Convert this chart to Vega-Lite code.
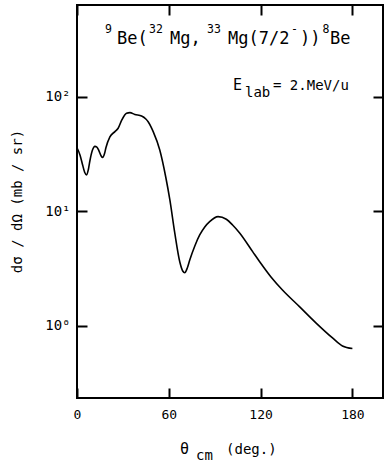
{
  "$schema": "https://vega.github.io/schema/vega-lite/v6.json",
  "width": 306,
  "height": 393,
  "autosize": "none",
  "padding": {"left": 77, "top": 5, "right": 1, "bottom": 65},
  "background": "white",
  "config": {
    "view": {"stroke": "black", "strokeWidth": 2},
    "axis": {
      "domain": false, "grid": false,
      "tickColor": "black", "tickWidth": 2, "tickSize": -10,
      "labelColor": "black", "labelFont": "DejaVu Sans Mono", "labelFontSize": 13,
      "titleFont": "DejaVu Sans Mono", "titleColor": "black", "titleFontWeight": "normal"
    },
    "text": {"font": "DejaVu Sans Mono", "color": "black", "align": "left", "baseline": "alphabetic"}
  },
  "datasets": {
    "curve": [
      {"theta": 0, "xs": 36}, {"theta": 2, "xs": 31}, {"theta": 3.5, "xs": 26}, {"theta": 5, "xs": 22},
      {"theta": 6.3, "xs": 20.8}, {"theta": 7.5, "xs": 23.5}, {"theta": 8.5, "xs": 28}, {"theta": 10, "xs": 34},
      {"theta": 11.7, "xs": 37}, {"theta": 13, "xs": 36.5}, {"theta": 14.3, "xs": 34}, {"theta": 15.8, "xs": 30.5},
      {"theta": 16.8, "xs": 29.6}, {"theta": 18, "xs": 32}, {"theta": 18.9, "xs": 36}, {"theta": 21.5, "xs": 44.8},
      {"theta": 24.8, "xs": 49.8}, {"theta": 26.9, "xs": 53.3}, {"theta": 29.3, "xs": 63}, {"theta": 32.4, "xs": 72},
      {"theta": 34.6, "xs": 73}, {"theta": 37.8, "xs": 70.3}, {"theta": 42.2, "xs": 68.2}, {"theta": 45, "xs": 64.2},
      {"theta": 46.5, "xs": 60.8}, {"theta": 49.8, "xs": 49.8}, {"theta": 54.1, "xs": 34.4}, {"theta": 58, "xs": 20},
      {"theta": 60.7, "xs": 12.6}, {"theta": 63.9, "xs": 6.49}, {"theta": 67.2, "xs": 3.62}, {"theta": 69.1, "xs": 3.02},
      {"theta": 70.4, "xs": 2.92}, {"theta": 72.1, "xs": 3.21}, {"theta": 73.7, "xs": 3.77}, {"theta": 77, "xs": 5.0},
      {"theta": 80.2, "xs": 6.23}, {"theta": 83.5, "xs": 7.32}, {"theta": 86.7, "xs": 8.15}, {"theta": 92.2, "xs": 9.01},
      {"theta": 97.6, "xs": 8.55}, {"theta": 101.7, "xs": 7.62}, {"theta": 106.3, "xs": 6.49}, {"theta": 114.8, "xs": 4.46},
      {"theta": 119.4, "xs": 3.64}, {"theta": 126.8, "xs": 2.68}, {"theta": 134.3, "xs": 2.06}, {"theta": 145.4, "xs": 1.475},
      {"theta": 156.3, "xs": 1.06}, {"theta": 167, "xs": 0.786}, {"theta": 173.5, "xs": 0.669}, {"theta": 180, "xs": 0.635}
    ]
  },
  "layer": [
    {
      "data": {"name": "curve"},
      "mark": {"type": "line", "color": "black", "strokeWidth": 1.6, "interpolate": "monotone"},
      "encoding": {
        "x": {"field": "theta", "type": "quantitative",
              "scale": {"domain": [0, 200], "nice": false, "zero": false},
              "axis": {"values": [0, 60, 120, 180], "title": null, "labelPadding": 20, "labelFlush": false, "labelFontSize": 13}},
        "y": {"field": "xs", "type": "quantitative",
              "scale": {"type": "log", "domain": [0.235, 635], "nice": false},
              "axis": {"values": [1, 10, 100],
                       "labelExpr": "datum.value == 1 ? '10⁰' : datum.value == 10 ? '10¹' : '10²'",
                       "labelPadding": 17, "labelFontSize": 14,
                       "title": "dσ / dΩ (mb / sr)", "titleFontSize": 14,
                       "titleX": -60, "titleY": 196, "titleAngle": 270,
                       "titleAlign": "center", "titleBaseline": "middle"}}
      }
    },
    {
      "data": {"name": "curve"},
      "mark": {"type": "line", "opacity": 0},
      "encoding": {
        "x": {"field": "theta", "type": "quantitative",
              "scale": {"domain": [0, 200], "nice": false, "zero": false},
              "axis": {"orient": "top", "values": [0, 60, 120, 180], "labels": false, "title": null}},
        "y": {"field": "xs", "type": "quantitative",
              "scale": {"type": "log", "domain": [0.235, 635], "nice": false},
              "axis": {"orient": "right", "values": [1, 10, 100], "labels": false, "title": null}}
      }
    },
    {
      "data": {"values": [
        {"x": 26.1, "y": 290.4, "text": "Be("},
        {"x": 60.8, "y": 290.4, "text": "Mg,"},
        {"x": 98.7, "y": 290.4, "text": "Mg(7/2"},
        {"x": 145.8, "y": 290.4, "text": "))"},
        {"x": 165.4, "y": 290.4, "text": "Be"}
      ]},
      "mark": {"type": "text", "fontSize": 17},
      "encoding": {
        "x": {"field": "x", "type": "quantitative", "scale": {"domain": [0, 200], "nice": false, "zero": false}, "axis": null},
        "y": {"field": "y", "type": "quantitative", "scale": {"type": "log", "domain": [0.235, 635], "nice": false}, "axis": null},
        "text": {"field": "text"}
      }
    },
    {
      "data": {"values": [
        {"x": 18.3, "y": 362.2, "text": "9"},
        {"x": 47.1, "y": 362.2, "text": "32"},
        {"x": 85.0, "y": 362.2, "text": "33"},
        {"x": 139.9, "y": 362.2, "text": "-"},
        {"x": 160.5, "y": 362.2, "text": "8"}
      ]},
      "mark": {"type": "text", "fontSize": 11.5},
      "encoding": {
        "x": {"field": "x", "type": "quantitative", "scale": {"domain": [0, 200], "nice": false, "zero": false}, "axis": null},
        "y": {"field": "y", "type": "quantitative", "scale": {"type": "log", "domain": [0.235, 635], "nice": false}, "axis": null},
        "text": {"field": "text"}
      }
    },
    {
      "data": {"values": [{"x": 102, "y": 115.1, "text": "E"}, {"x": 67.3, "y": 0.0762, "text": "θ"}]},
      "mark": {"type": "text", "fontSize": 15},
      "encoding": {
        "x": {"field": "x", "type": "quantitative", "scale": {"domain": [0, 200], "nice": false, "zero": false}, "axis": null},
        "y": {"field": "y", "type": "quantitative", "scale": {"type": "log", "domain": [0.235, 635], "nice": false}, "axis": null},
        "text": {"field": "text"}
      }
    },
    {
      "data": {"values": [{"x": 109.8, "y": 100, "text": "lab"}, {"x": 77.8, "y": 0.0676, "text": "cm"}]},
      "mark": {"type": "text", "fontSize": 14},
      "encoding": {
        "x": {"field": "x", "type": "quantitative", "scale": {"domain": [0, 200], "nice": false, "zero": false}, "axis": null},
        "y": {"field": "y", "type": "quantitative", "scale": {"type": "log", "domain": [0.235, 635], "nice": false}, "axis": null},
        "text": {"field": "text"}
      }
    },
    {
      "data": {"values": [{"x": 128.1, "y": 115.1, "text": "= 2.MeV/u"}, {"x": 97.4, "y": 0.0762, "text": "(deg.)"}]},
      "mark": {"type": "text", "fontSize": 14},
      "encoding": {
        "x": {"field": "x", "type": "quantitative", "scale": {"domain": [0, 200], "nice": false, "zero": false}, "axis": null},
        "y": {"field": "y", "type": "quantitative", "scale": {"type": "log", "domain": [0.235, 635], "nice": false}, "axis": null},
        "text": {"field": "text"}
      }
    }
  ],
  "resolve": {"axis": {"x": "independent", "y": "independent"}}
}
